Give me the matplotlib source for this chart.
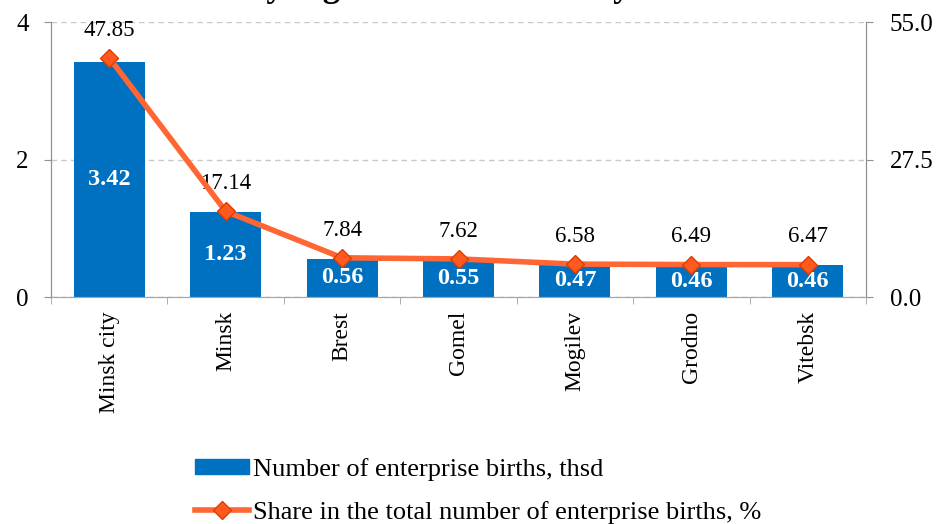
import numpy as np
import matplotlib.pyplot as plt
from matplotlib.lines import Line2D
from matplotlib.patches import Patch

plt.rcParams['font.family'] = ['Liberation Serif', 'DejaVu Serif']

regions = ["Minsk city", "Minsk", "Brest", "Gomel", "Mogilev", "Grodno", "Vitebsk"]
births = [3.42, 1.23, 0.56, 0.55, 0.47, 0.46, 0.46]
share = [47.85, 17.14, 7.84, 7.62, 6.58, 6.49, 6.47]

bar_color = '#0070C0'
line_color = '#FF6633'

fig = plt.figure(figsize=(9.4, 5.24), dpi=100)
ax = fig.add_axes([0.0543, 0.4332, 0.867, 0.5248])
ax2 = ax.twinx()

x = np.arange(len(regions))
ax.bar(x, births, width=0.61, color=bar_color, zorder=2)
ax.set_xlim(-0.5, len(regions) - 0.5)
ax.set_ylim(0, 4)
ax.set_yticks([0, 2, 4])
ax.yaxis.grid(True, linestyle=(0, (4, 3)), color='#C8C8C8', linewidth=1, zorder=0)
ax.set_axisbelow(True)

for xi, v in zip(x, births):
    ax.text(xi, v / 2, f"{v:.2f}", ha='center', va='center', color='white',
            fontsize=17.5, fontweight='bold', zorder=3)

ax2.plot(x, share, color=line_color, linewidth=4, marker='D', markersize=9,
         markerfacecolor='#FF5A1E', markeredgecolor='#E03C00', markeredgewidth=1, zorder=4)
ax2.set_ylim(0, 55)
ax2.set_yticks([0, 27.5, 55])
ax2.set_yticklabels(["0.0", "27.5", "55.0"])
for xi, v in zip(x, share):
    ax2.annotate(f"{v:.2f}", (xi, v), xytext=(0, 16), textcoords='offset points',
                 ha='center', va='baseline', fontsize=16.5)

# category boundary ticks on x axis
ax.set_xticks(x)
ax.set_xticklabels(regions, rotation=90, fontsize=17)
ax.tick_params(axis='x', length=0, pad=10)
ax.set_xticks(np.arange(-0.5, len(regions), 1), minor=True)
ax.tick_params(axis='x', which='minor', length=5, color='#A0A0A0')

ax.tick_params(axis='y', labelsize=18, length=5, color='#909090', pad=11)
ax2.tick_params(axis='y', labelsize=18, length=5, color='#909090', pad=12)

for a in (ax, ax2):
    a.spines['top'].set_visible(False)
    a.spines['left'].set_color('#909090')
    a.spines['right'].set_color('#909090')
    a.spines['bottom'].set_color('#A6A6A6')

# title sits mostly above the canvas, as in the source image
fig.text(0.528, 1.008, "Enterprise births\nby regions and Minsk city in 2016",
         ha='center', va='baseline', fontsize=25, fontweight='bold')

handles = [Patch(color=bar_color),
           Line2D([0], [0], color=line_color, linewidth=4, marker='D', markersize=9,
                  markerfacecolor='#FF5A1E', markeredgecolor='#E03C00')]
labels = ["Number of enterprise births, thsd",
          "Share in the total number of enterprise births, %"]
fig.legend(handles, labels, loc='upper left', bbox_to_anchor=(0.2074, 0.126),
           frameon=False, fontsize=19, handlelength=2.05, handleheight=0.5,
           handletextpad=0.15, labelspacing=0.75, borderaxespad=0, borderpad=0)

fig.savefig("out.png", dpi=100)
